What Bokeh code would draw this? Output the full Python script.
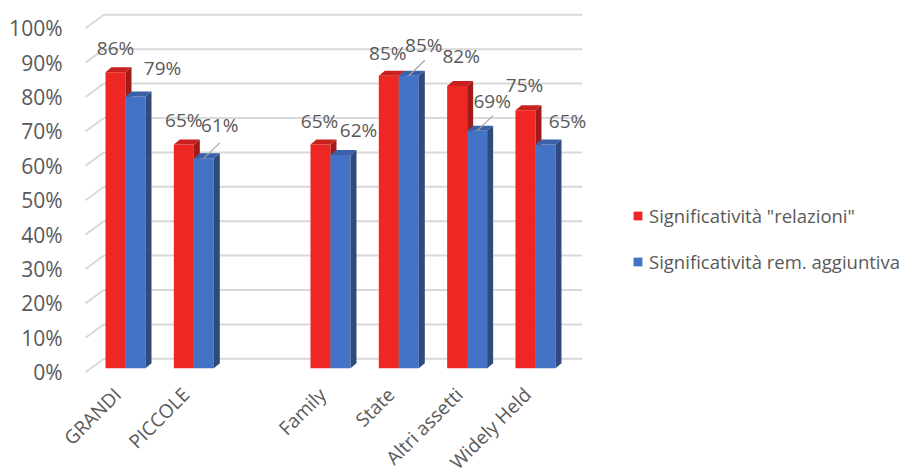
import math
from bokeh.plotting import figure
from bokeh.models import ColumnDataSource, Range1d, Legend, LegendItem
from bokeh.core.properties import value
from bokeh.embed import file_html
from bokeh.resources import INLINE

# ---- data -------------------------------------------------------------
categories = ["GRANDI", "PICCOLE", "Family", "State", "Altri assetti", "Widely Held"]
relazioni = [0.86, 0.65, 0.65, 0.85, 0.82, 0.75]
rem_aggiuntiva = [0.79, 0.61, 0.62, 0.85, 0.69, 0.65]
y_ticks = [0.0, 0.1, 0.2, 0.3, 0.4, 0.5, 0.6, 0.7, 0.8, 0.9, 1.0]
series_names = ['Significatività "relazioni"', "Significatività rem. aggiuntiva"]

# ---- layout -----------------------------------------------------------
slots = [0, 1, 3, 4, 5, 6]          # empty slot between the two groups
PX_X = 68.33                        # pixels per category slot
PX_Y = 344.0                        # pixels per 100%
BAR_W = 20 / PX_X
DEPTH_X = 6 / PX_X
DEPTH_Y = 5 / PX_Y

W, H = 902, 468
x0_px = 125                          # pixel of slot 0
y0_px = 367.7                        # pixel of 0%

x_start = -x0_px / PX_X
x_end = x_start + W / PX_X
y_start = -(H - y0_px) / PX_Y
y_end = y0_px / PX_Y


def px_x(px):
    """Horizontal pixel position expressed in category units."""
    return (px - x0_px) / PX_X


TEXT = "#595959"
GRID = "#D9D9D9"
FONT = "Open Sans"

red = dict(front="#EE2724", top="#C8211E", side="#A11C19")
blue = dict(front="#4472C4", top="#3A61A8", side="#2F4A7C")

p = figure(width=W, height=H, output_backend="svg", toolbar_location=None,
           x_range=Range1d(x_start, x_end), y_range=Range1d(y_start, y_end),
           min_border=0, x_axis_location=None, y_axis_location=None,
           background_fill_color="white", border_fill_color="white",
           outline_line_color=None)
p.xgrid.visible = False
p.ygrid.visible = False

# ---- back-wall gridlines with slanted side edge -----------------------
back = 9.4 / PX_Y
front = -4 / PX_Y
gx_a, gx_b, gx_c = px_x(85), px_x(103.3), px_x(581.7)
p.segment(x0=[gx_b] * len(y_ticks), y0=[t + back for t in y_ticks],
          x1=[gx_c] * len(y_ticks), y1=[t + back for t in y_ticks],
          line_color=GRID, line_width=2)
p.segment(x0=[gx_a] * len(y_ticks), y0=[t + front for t in y_ticks],
          x1=[gx_b] * len(y_ticks), y1=[t + back for t in y_ticks],
          line_color=GRID, line_width=2)

# ---- value labels on the front edge of the floor ---------------------
tick_src = ColumnDataSource(dict(
    x=[px_x(62)] * len(y_ticks), y=y_ticks,
    txt=[f"{round(t * 100)}%" for t in y_ticks]))
p.text(x="x", y="y", text="txt", source=tick_src, y_offset=4,
       text_font=value(FONT), text_font_size="21px", text_color=TEXT,
       text_align="right", text_baseline="middle")


# ---- 3D bars ----------------------------------------------------------
def bar_faces(vals, shift):
    left = [s + shift for s in slots]
    right = [l + BAR_W for l in left]
    side_xs, side_ys, top_xs, top_ys = [], [], [], []
    for l, r, v in zip(left, right, vals):
        side_xs.append([r, r + DEPTH_X, r + DEPTH_X, r])
        side_ys.append([0, DEPTH_Y, v + DEPTH_Y, v])
        top_xs.append([l, r, r + DEPTH_X, l + DEPTH_X])
        top_ys.append([v, v, v + DEPTH_Y, v + DEPTH_Y])
    return left, right, side_xs, side_ys, top_xs, top_ys


renderers = []
for vals, shift, col in ((relazioni, -BAR_W, red), (rem_aggiuntiva, 0.0, blue)):
    left, right, sx, sy, tx, ty = bar_faces(vals, shift)
    fr = p.quad(left=left, right=right, bottom=[0] * len(vals), top=vals,
                fill_color=col["front"], line_color=None)
    p.patches(xs=sx, ys=sy, fill_color=col["side"], line_color=None)
    p.patches(xs=tx, ys=ty, fill_color=col["top"], line_color=None)
    renderers.append(fr)

# ---- data labels ------------------------------------------------------
red_off = [(0, -24), (0, -25), (-1, -24), (-1, -23), (4, -30), (-1, -25)]
blue_off = [(27, -28), (16, -33), (18, -25), (15, -31), (15, -30), (22, -24)]
leaders = [1, 3, 4]  # blue labels joined to their bar by a leader line

for vals, shift, offs in ((relazioni, -BAR_W / 2, red_off),
                          (rem_aggiuntiva, BAR_W / 2, blue_off)):
    src = ColumnDataSource(dict(
        x=[s + shift for s in slots], y=vals,
        txt=[f"{round(v * 100)}%" for v in vals],
        xo=[o[0] for o in offs], yo=[o[1] for o in offs]))
    p.text(x="x", y="y", text="txt", x_offset="xo", y_offset="yo", source=src,
           text_font=value(FONT), text_font_size="19px", text_color=TEXT,
           text_align="center", text_baseline="middle")

lx = [slots[i] + BAR_W / 2 for i in leaders]
ly = [rem_aggiuntiva[i] for i in leaders]
p.segment(x0=lx, y0=ly, x1=[x + 16 / PX_X for x in lx],
          y1=[y + 15.5 / PX_Y for y in ly], line_color="#A6A6A6", line_width=1.2)

# ---- category labels, rotated under the floor ------------------------
cat_src = ColumnDataSource(dict(x=slots, y=[0] * len(slots), txt=categories))
p.text(x="x", y="y", text="txt", source=cat_src, angle=math.pi / 4,
       x_offset=-8, y_offset=23, text_font=value(FONT), text_font_size="19px",
       text_color=TEXT, text_align="right", text_baseline="middle")

# ---- legend -----------------------------------------------------------
legend = Legend(items=[LegendItem(label=n, renderers=[r])
                       for n, r in zip(series_names, renderers)],
                location=(632, H - 274),
                glyph_width=11, glyph_height=11, label_standoff=6,
                label_height=22, spacing=21, padding=0, margin=0,
                border_line_color=None, background_fill_alpha=0,
                label_text_font=FONT, label_text_font_size="18.5px",
                label_text_color=TEXT)
p.add_layout(legend)

open("out.html", "w").write(file_html(p, INLINE))
